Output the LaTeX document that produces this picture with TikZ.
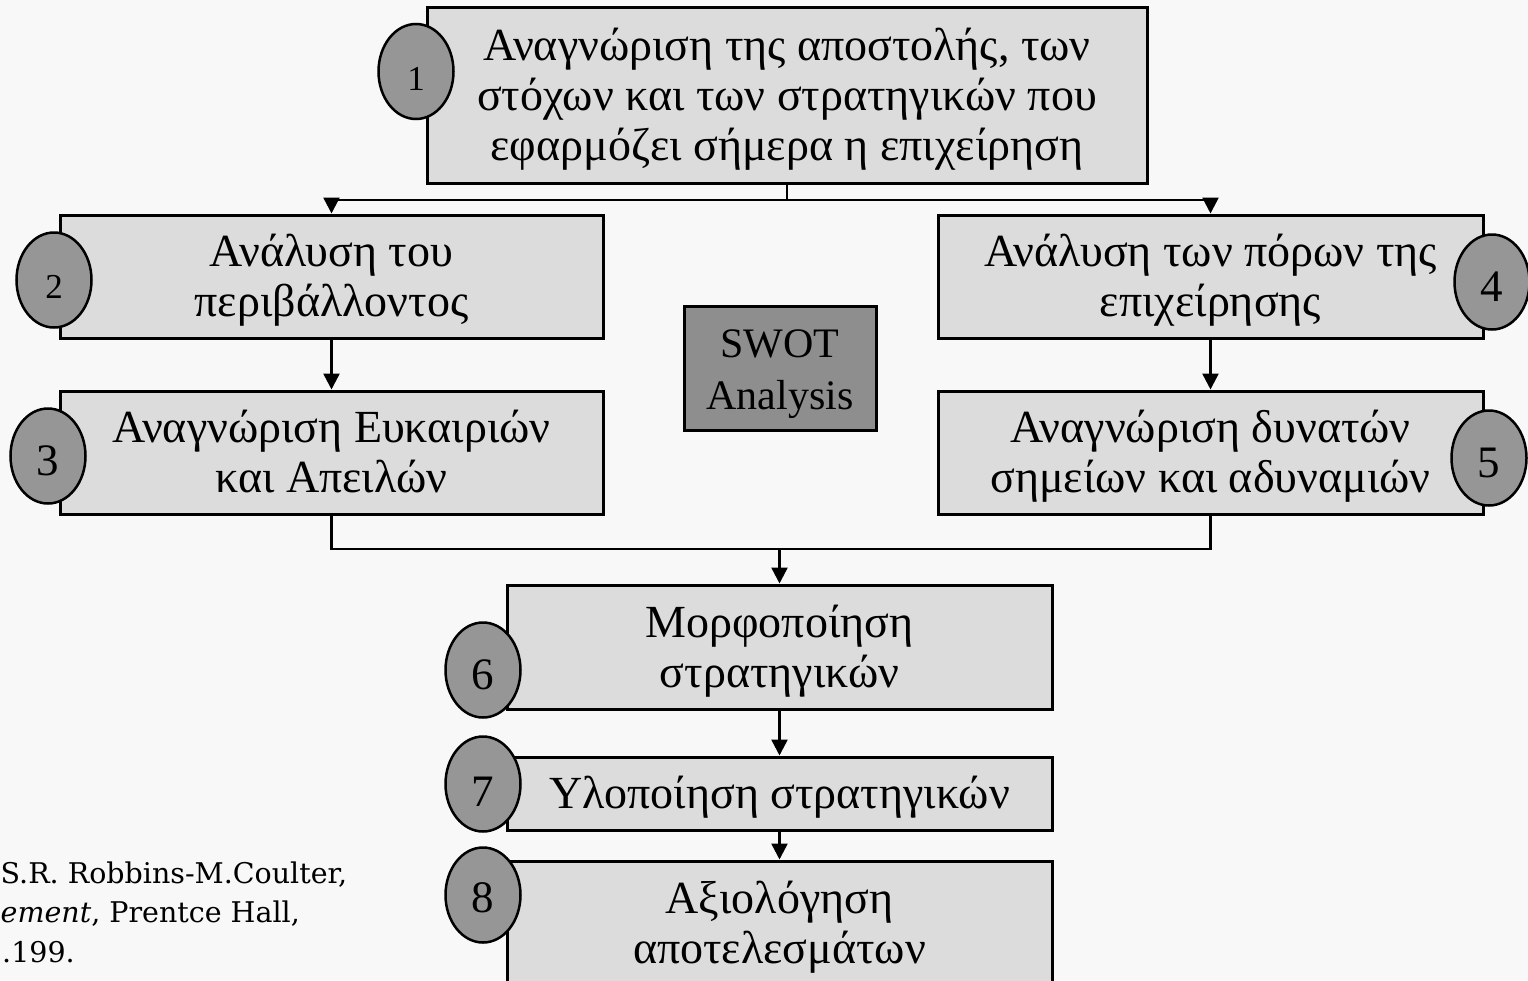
\documentclass[tikz,border=0pt]{standalone}
\usepackage{fontspec}
\setmainfont{Liberation Serif}
\newfontfamily\citefont{DejaVu Serif}
\usetikzlibrary{arrows.meta,shapes.geometric}
\definecolor{bgc}{HTML}{F8F8F8}
\definecolor{boxfill}{HTML}{DCDCDC}
\definecolor{ellfill}{HTML}{969696}
\definecolor{swotfill}{HTML}{8E8E8E}
\newcommand{\boxtext}[1]{\raisebox{-5pt}[\height][\depth]{\begin{tabular}{@{}c@{}}#1\end{tabular}}}
\newcommand{\numtext}[2][-5pt]{\raisebox{#1}[\height][\depth]{#2}}
\begin{document}
\begin{tikzpicture}[x=1pt,y=-1pt,
  stepbox/.style={draw=black, line width=3pt, fill=boxfill, inner sep=0pt,
    align=center, font=\fontsize{46}{50}\selectfont},
  numell/.style={ellipse, draw=black, line width=2.5pt, fill=ellfill,
    minimum width=75pt, minimum height=95pt, inner sep=0pt,
    font=\fontsize{45}{45}\selectfont},
  smallnum/.style={font=\fontsize{35}{35}\selectfont},
  conn/.style={line width=2.5pt},
  arr/.style={conn, -{Triangle[width=16pt,length=16pt]}},
  citetext/.style={inner sep=0pt, font=\citefont\fontsize{28.5}{28.5}\selectfont}
]
\useasboundingbox (0,0) rectangle (1528,980);
\clip (0,0) rectangle (1528,980);
\fill[bgc] (0,0) rectangle (1528,980);

% boxes
\node[stepbox, minimum width=720pt, minimum height=176pt] (b1) at (787,95)
  {\boxtext{Αναγνώριση της αποστολής, των\\στόχων και των στρατηγικών που\\εφαρμόζει σήμερα η επιχείρηση}};
\node[stepbox, minimum width=543pt, minimum height=123pt] (b2) at (331.5,276.5)
  {\boxtext{Ανάλυση του\\περιβάλλοντος}};
\node[stepbox, minimum width=543pt, minimum height=123pt] (b3) at (331.5,452.5)
  {\boxtext{Αναγνώριση Ευκαιριών\\και Απειλών}};
\node[stepbox, minimum width=545pt, minimum height=123pt] (b4) at (1210.5,276.5)
  {\boxtext{Ανάλυση των πόρων της\\επιχείρησης}};
\node[stepbox, minimum width=545pt, minimum height=123pt] (b5) at (1210.5,452.5)
  {\boxtext{Αναγνώριση δυνατών\\σημείων και αδυναμιών}};
\node[stepbox, fill=swotfill, minimum width=192pt, minimum height=124pt,
  font=\fontsize{42}{52}\selectfont] (swot) at (780,368) {\boxtext{SWOT\\Analysis}};
\node[stepbox, minimum width=545pt, minimum height=124pt] (b6) at (779.5,647)
  {\boxtext{Μορφοποίηση\\στρατηγικών}};
\node[stepbox, minimum width=545pt, minimum height=73pt] (b7) at (779.5,793.5)
  {\boxtext{Υλοποίηση στρατηγικών}};
\node[stepbox, minimum width=545pt, minimum height=124pt] (b8) at (779.5,923)
  {\boxtext{Αξιολόγηση\\αποτελεσμάτων}};

% number ellipses
\node[numell, smallnum] (e1) at (416,71.5) {\numtext[-7pt]{1}};
\node[numell, smallnum] (e2) at (54,280) {\numtext[-7pt]{2}};
\node[numell] (e3) at (48,456) {\numtext{3}};
\node[numell] (e4) at (1492,282) {\numtext{4}};
\node[numell] (e5) at (1489,458) {\numtext{5}};
\node[numell] (e6) at (483,670) {\numtext{6}};
\node[numell] (e7) at (483,784) {\numtext[-8pt]{7}};
\node[numell] (e8) at (483,895) {\numtext[-3pt]{8}};

% connectors
\coordinate (j1) at (787,200);
\coordinate (j2) at (780,549);
\draw[conn] (b1.south) -- (j1);
\draw[conn] (b2.north |- j1) -- (b4.north |- j1);
\draw[arr] (b2.north |- j1) -- (b2.north);
\draw[arr] (b4.north |- j1) -- (b4.north);
\draw[arr] (b2.south) -- (b3.north);
\draw[arr] (b4.south) -- (b5.north);
\draw[conn] (b3.south) -- (b3.south |- j2) -- (b5.south |- j2) -- (b5.south);
\draw[arr] (b6.north |- j2) -- (b6.north);
\draw[arr] (b6.south) -- (b7.north);
\draw[arr] (b7.south) -- (b8.north);

% citation
\node[citetext, anchor=base west] (c1) at (0.5,883) {S.R. Robbins-M.Coulter,};
\node[citetext, anchor=base west] (c2) at (0.5,922) {\itshape ement\upshape, Prentce Hall,};
\node[citetext, anchor=base west] (c3) at (2,962) {.199.};
\end{tikzpicture}
\end{document}
